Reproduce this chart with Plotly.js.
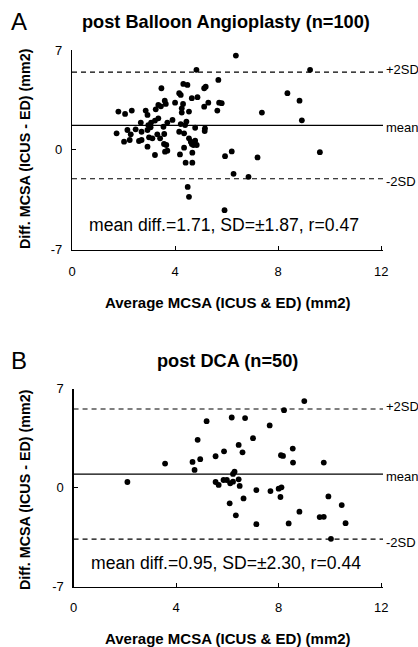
<!DOCTYPE html>
<html>
<head>
<meta charset="utf-8">
<script src="https://cdn.plot.ly/plotly-3.0.1.min.js"></script>
<style>
html,body{margin:0;padding:0;background:#fff;}
#chart{width:418px;height:647px;}
</style>
</head>
<body>
<div id="chart"></div>
<script>
// Panel A: post Balloon Angioplasty (n=100)
const xA = [6.36,4.83,9.24,5.68,8.36,8.83,8.92,7.37,9.62,7.20,6.20,5.94,6.27,6.85,4.49,4.54,5.92,
  4.32,4.48,3.47,5.13,5.19,4.16,4.22,4.65,4.87,3.60,3.64,4.00,4.31,5.29,5.13,5.71,5.81,5.64,
  3.35,3.25,3.45,4.26,4.26,4.54,1.80,2.06,2.32,2.86,2.93,3.35,3.22,3.07,3.70,3.90,2.67,2.96,
  4.44,4.39,4.22,3.05,3.55,2.15,2.47,2.70,2.93,1.73,2.02,2.28,2.24,2.60,2.70,2.99,3.12,3.31,3.42,
  3.58,4.16,4.35,4.78,5.16,5.15,3.57,3.66,3.61,3.70,2.93,3.22,
  4.54,4.61,4.71,4.84,4.65,4.78,4.35,4.19,4.67,4.41,4.67];
const yA = [6.61,5.61,5.61,4.90,3.97,3.45,2.07,2.61,-0.16,-0.53,-0.11,-0.44,-1.68,-1.89,-2.60,-3.29,-4.23,
  4.62,4.55,4.32,4.32,4.43,3.97,3.85,3.62,3.69,3.45,3.22,3.31,3.22,3.31,3.03,3.31,3.27,2.75,
  3.15,2.84,3.05,2.91,2.61,2.68,2.68,2.52,2.75,2.75,2.45,2.21,2.05,1.91,1.91,2.10,1.91,1.74,
  1.98,1.74,1.81,1.58,1.62,1.39,1.44,1.27,1.39,1.16,0.57,1.09,0.69,0.62,0.69,0.88,0.81,1.09,0.81,
  1.11,1.27,1.16,1.55,1.51,1.32,0.41,0.34,-0.13,-0.06,0.22,-0.36,
  0.81,0.57,0.34,0.34,0.41,0.64,0.15,-0.32,-0.20,-0.90,-0.90];
const meanA = 1.71, sdA = 1.87, rA = 0.47;

// Panel B: post DCA (n=50)
const xB = [2.10,3.57,4.64,4.72,4.94,4.84,5.19,5.54,5.87,6.44,6.59,6.17,6.69,7.00,7.65,8.21,9.00,
  8.09,8.17,8.55,8.56,9.76,6.22,6.28,5.85,5.98,6.11,6.22,6.44,6.48,5.54,5.66,
  6.63,6.09,6.33,7.13,7.68,8.00,8.11,8.07,7.13,8.39,8.81,9.60,9.76,9.94,10.46,10.61,10.04];
const yB = [0.39,1.69,1.81,1.24,2.00,3.37,4.69,2.21,2.56,3.01,2.49,4.95,4.91,3.49,4.39,5.47,6.11,
  2.28,2.23,2.75,1.76,1.76,0.96,1.12,0.53,0.53,0.30,0.41,0.58,0.11,0.39,0.18,
  -0.77,-1.12,-1.97,-0.18,-0.25,-0.08,0.01,-0.67,-2.59,-2.54,-1.71,-2.09,-2.07,-0.63,-1.24,-2.52,-3.63];
const meanB = 0.95, sdB = 2.30, rB = 0.44;

const xTicks = [0, 4, 8, 12];
const yTicks = [-7, 0, 7];
const titleA = 'post Balloon Angioplasty (n=100)';
const titleB = 'post DCA (n=50)';
const yTitle = 'Diff. MCSA (ICUS - ED) (mm2)';
const xTitle = 'Average MCSA (ICUS &amp; ED) (mm2)';

const FONT = "'Liberation Sans', Arial, Helvetica, sans-serif";
const W = 418, H = 647, L = 72, R = 35;
const PW = W - L - R;
const px = v => (v - L) / PW;
const py = v => 1 - v / H;

const marker = {color: '#000', size: 5.8, symbol: 'circle'};
const traces = [
  {x: xA, y: yA, type: 'scatter', mode: 'markers', marker: marker, xaxis: 'x', yaxis: 'y', hoverinfo: 'x+y'},
  {x: xB, y: yB, type: 'scatter', mode: 'markers', marker: marker, xaxis: 'x2', yaxis: 'y2', hoverinfo: 'x+y'}
];

function xax(domain, anchor) {
  return {domain: domain, anchor: anchor, range: [0, 12.07], tickvals: xTicks, ticktext: xTicks.map(String),
    showline: true, linecolor: '#000', linewidth: 1.2, ticks: 'inside', ticklen: 4, tickcolor: '#000',
    showgrid: false, zeroline: false, tickfont: {family: FONT, size: 13, color: '#000'}, ticklabelstandoff: 9};
}
function yax(domain, anchor) {
  return {domain: domain, anchor: anchor, range: [-7, 7], tickvals: yTicks, ticktext: yTicks.map(String),
    showline: true, linecolor: '#000', linewidth: 1.2, ticks: 'inside', ticklen: 4, tickcolor: '#000',
    showgrid: false, zeroline: false, tickfont: {family: FONT, size: 13, color: '#000'}, ticklabelstandoff: 6};
}

function refLines(xr, yr, m, s) {
  const xmax = 12.07;
  return [
    {type: 'line', xref: xr, yref: yr, x0: 0, x1: xmax, y0: m, y1: m, line: {color: '#000', width: 1.2}},
    {type: 'line', xref: xr, yref: yr, x0: 0, x1: xmax, y0: m + 2 * s, y1: m + 2 * s, line: {color: '#000', width: 1.1, dash: '5px,4px'}},
    {type: 'line', xref: xr, yref: yr, x0: 0, x1: xmax, y0: m - 2 * s, y1: m - 2 * s, line: {color: '#000', width: 1.1, dash: '5px,4px'}}
  ];
}

function sideLabels(yr, m, s) {
  const f = {family: FONT, size: 13, color: '#000'};
  return [
    {text: '+2SD', xref: 'paper', yref: yr, x: px(384), y: m + 2 * s, xanchor: 'left', yanchor: 'middle', showarrow: false, font: f, yshift: 3},
    {text: 'mean', xref: 'paper', yref: yr, x: px(384), y: m, xanchor: 'left', yanchor: 'middle', showarrow: false, font: f, yshift: -2},
    {text: '-2SD', xref: 'paper', yref: yr, x: px(384), y: m - 2 * s, xanchor: 'left', yanchor: 'middle', showarrow: false, font: f, yshift: -3}
  ];
}

const bold = (t, size) => ({text: '<b>' + t + '</b>', showarrow: false, xref: 'paper', yref: 'paper', font: {family: FONT, size: size, color: '#000'}});

const annotations = [
  Object.assign(bold(titleA, 18.2), {x: px(226), y: py(22), xanchor: 'center', yanchor: 'middle'}),
  Object.assign(bold(titleB, 18.2), {x: px(227), y: py(361), xanchor: 'center', yanchor: 'middle'}),
  {text: 'A', x: px(9), y: py(22), xref: 'paper', yref: 'paper', xanchor: 'left', yanchor: 'middle', showarrow: false, font: {family: FONT, size: 24, color: '#000'}},
  {text: 'B', x: px(9), y: py(360), xref: 'paper', yref: 'paper', xanchor: 'left', yanchor: 'middle', showarrow: false, font: {family: FONT, size: 24, color: '#000'}},
  Object.assign(bold(yTitle, 14.3), {x: px(25), y: py(149), xanchor: 'center', yanchor: 'middle', textangle: -90}),
  Object.assign(bold(yTitle, 14.3), {x: px(25), y: py(490), xanchor: 'center', yanchor: 'middle', textangle: -90}),
  Object.assign(bold(xTitle, 15), {x: px(228), y: py(303), xanchor: 'center', yanchor: 'middle'}),
  Object.assign(bold(xTitle, 15), {x: px(228), y: py(638), xanchor: 'center', yanchor: 'middle'}),
  {text: 'mean diff.=' + meanA.toFixed(2) + ', SD=±' + sdA.toFixed(2) + ', r=' + rA.toFixed(2),
    x: px(87), y: py(225), xref: 'paper', yref: 'paper', xanchor: 'left', yanchor: 'middle', showarrow: false, font: {family: FONT, size: 17.6, color: '#000'}},
  {text: 'mean diff.=' + meanB.toFixed(2) + ', SD=±' + sdB.toFixed(2) + ', r=' + rB.toFixed(2),
    x: px(89), y: py(563), xref: 'paper', yref: 'paper', xanchor: 'left', yanchor: 'middle', showarrow: false, font: {family: FONT, size: 17.6, color: '#000'}}
].concat(sideLabels('y', meanA, sdA), sideLabels('y2', meanB, sdB));

const layout = {
  width: W, height: H,
  margin: {l: L, r: R, t: 0, b: 0},
  paper_bgcolor: '#fff', plot_bgcolor: '#fff',
  showlegend: false,
  font: {family: FONT, color: '#000'},
  xaxis: xax([0, 1], 'y'),
  yaxis: yax([py(249.7), py(50)], 'x'),
  xaxis2: xax([0.005, 1], 'y2'),
  yaxis2: yax([py(586.5), py(388.5)], 'x2'),
  shapes: refLines('x', 'y', meanA, sdA).concat(refLines('x2', 'y2', meanB, sdB)),
  annotations: annotations
};

Plotly.newPlot('chart', traces, layout, {displayModeBar: false, staticPlot: true});
</script>
</body>
</html>
